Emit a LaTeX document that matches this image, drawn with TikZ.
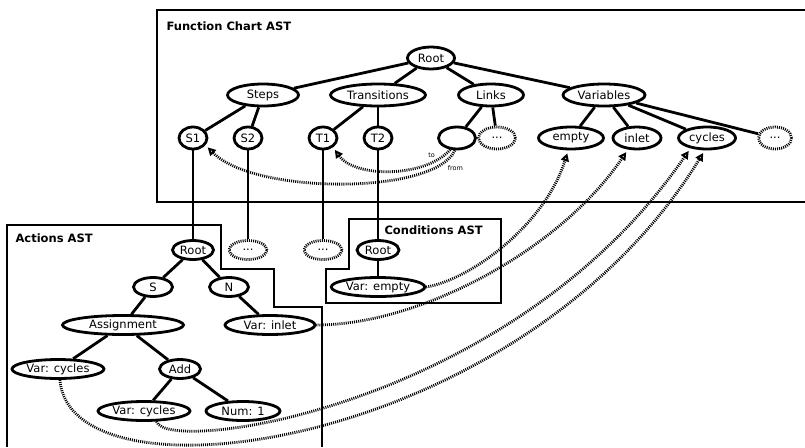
\documentclass[tikz,border=0pt]{standalone}
\usepackage{fontspec}
\setmainfont{DejaVu Sans}
\usetikzlibrary{shapes.geometric,arrows.meta}

\begin{document}
\begin{tikzpicture}[x=1pt,y=1pt,font=\fontsize{11.5}{13}\selectfont,
  nd/.style={ellipse,draw,line width=2.8pt,inner xsep=1pt,inner ysep=0pt,minimum height=22pt},
  sm/.style={nd,minimum height=19pt},
  more/.style={nd,dash pattern=on 1pt off 1.1pt,minimum width=35pt},
  edge/.style={line width=2.8pt},
  box/.style={line width=2pt},
  ttl/.style={font=\fontsize{11.5}{13}\selectfont\bfseries,anchor=west},
  ref/.style={line width=2.8pt,dash pattern=on 1pt off 1.1pt,-{Triangle[open,length=8pt,width=8pt,line width=2pt]},shorten >=3pt},
  tag/.style={font=\fontsize{6.5}{7}\selectfont,inner sep=1pt}]
\useasboundingbox (0,0) rectangle (805,-447);
% boxes
\draw[box] (805,-10) -- (157,-10) -- (157,-202) -- (805,-202);
\draw[box] (7,-447) -- (7,-225) -- (221,-225) -- (221,-269) -- (274,-269) -- (274,-307) -- (322,-307) -- (322,-447);
\draw[box] (349,-219) -- (501,-219) -- (501,-303) -- (326,-303) -- (326,-269) -- (349,-269) -- cycle;
\node[ttl] (tfc) at (163,-26) {Function Chart AST};
\node[ttl] (tac) at (12,-238) {Actions AST};
\node[ttl] (tcd) at (381,-230) {Conditions AST};
% function chart
\node[nd,minimum width=47pt] (root) at (431,-58) {Root};
\node[nd,minimum width=71pt] (steps) at (263,-95) {Steps};
\node[nd,minimum width=95pt] (trans) at (378,-95) {Transitions};
\node[nd,minimum width=65pt] (links) at (491,-95) {Links};
\node[nd,minimum width=82pt] (vars) at (604,-95) {Variables};
\node[nd,minimum width=28pt] (s1) at (193,-138) {S1};
\node[nd,minimum width=28pt] (s2) at (248,-138) {S2};
\node[nd,minimum width=28pt] (t1) at (323,-138) {T1};
\node[nd,minimum width=28pt] (t2) at (378,-138) {T2};
\node[nd,minimum width=37pt] (lnk) at (457,-138) {};
\node[more,minimum width=37pt] (lmore) at (497,-138) {...};
\node[nd,minimum width=65pt] (vempty) at (571,-138) {empty};
\node[nd,minimum width=48pt] (vinlet) at (637,-138) {inlet};
\node[nd,minimum width=57pt] (vcycles) at (707,-138) {cycles};
\node[more,minimum width=33pt] (vmore) at (775,-138) {...};
\draw[edge] (root) -- (steps);
\draw[edge] (root) -- (trans);
\draw[edge] (root) -- (links);
\draw[edge] (root) -- (vars);
\draw[edge] (steps) -- (s1);
\draw[edge] (steps) -- (s2);
\draw[edge] (trans) -- (t1);
\draw[edge] (trans) -- (t2);
\draw[edge] (links) -- (lnk);
\draw[edge] (links) -- (lmore);
\draw[edge] (vars) -- (vempty);
\draw[edge] (vars) -- (vinlet);
\draw[edge] (vars) -- (vcycles);
\draw[edge] (vars) -- (vmore);
% actions
\node[sm,minimum width=41pt] (aroot) at (193,-250) {Root};
\node[more,minimum height=19pt,minimum width=38pt] (amore1) at (248,-250) {...};
\node[more,minimum height=19pt,minimum width=38pt] (amore2) at (323,-250) {...};
\node[sm,minimum width=39pt] (as) at (153,-287) {S};
\node[sm,minimum width=39pt] (an) at (229,-287) {N};
\node[sm,minimum width=121pt] (asgn) at (123,-325) {Assignment};
\node[sm,minimum width=90pt] (ainlet) at (270,-325) {Var: inlet};
\node[sm,minimum width=90pt] (acyc) at (58,-369) {Var: cycles};
\node[sm,minimum width=41pt] (aadd) at (180,-369) {Add};
\node[sm,minimum width=91pt] (acyc2) at (144,-411) {Var: cycles};
\node[sm,minimum width=74pt] (anum) at (243,-411) {Num: 1};
\draw[edge] (aroot) -- (as);
\draw[edge] (aroot) -- (an);
\draw[edge] (as) -- (asgn);
\draw[edge] (an) -- (ainlet);
\draw[edge] (asgn) -- (acyc);
\draw[edge] (asgn) -- (aadd);
\draw[edge] (aadd) -- (acyc2);
\draw[edge] (aadd) -- (anum);
% conditions
\node[sm,minimum width=42pt] (croot) at (378,-250) {Root};
\node[sm,minimum width=92pt] (cempty) at (378,-287) {Var: empty};
\draw[edge] (croot) -- (cempty);
% subtrees
\draw[edge] (s1) -- (aroot);
\draw[edge] (s2) -- (amore1);
\draw[edge] (t1) -- (amore2);
\draw[edge] (t2) -- (croot);
% references
\draw[ref] (lnk.240) .. controls (425,-178) and (355,-178) .. (t1.-43) node[tag,pos=0.14,above left]{to};
\draw[ref] (lnk.260) .. controls (435,-195) and (255,-195) .. (s1.-30) node[tag,pos=0.1,below right=1pt]{from};
\draw[ref] (cempty.east) .. controls (470,-280) and (545,-225) .. (vempty.-103);
\draw[ref] (ainlet.east) .. controls (420,-325) and (560,-250) .. (vinlet.-128);
\draw[ref] (acyc.-80) .. controls (70,-510) and (520,-450) .. (vcycles.-100);
\draw[ref] (acyc2.-40) .. controls (165,-455) and (510,-410) .. (vcycles.-148);
\end{tikzpicture}
\end{document}
